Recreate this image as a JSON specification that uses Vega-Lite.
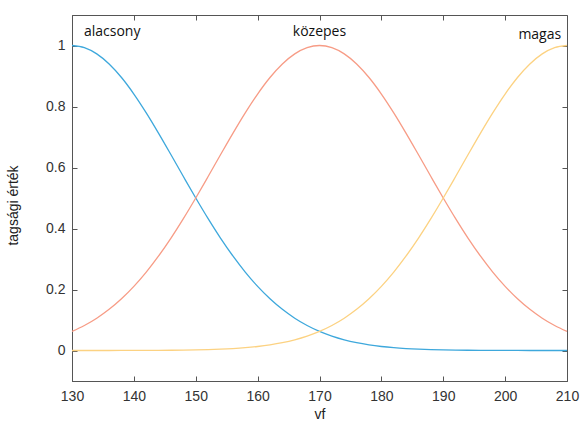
{
  "$schema": "https://vega.github.io/schema/vega-lite/v6.json",
  "width": 495,
  "height": 366,
  "autosize": {"type": "none"},
  "padding": {"left": 72, "top": 15, "right": 14, "bottom": 40},
  "background": "white",
  "config": {
    "view": {"stroke": "#555555", "strokeWidth": 1},
    "axis": {
      "labelFont": "Liberation Sans",
      "labelFontSize": 14,
      "labelColor": "#333333",
      "titleFont": "Liberation Sans",
      "titleFontSize": 14,
      "titleFontWeight": "normal",
      "titleColor": "#222222",
      "domainColor": "#555555",
      "tickColor": "#555555",
      "grid": false
    }
  },
  "datasets": {
    "curves": [
      {"x": 130, "alacsony": 1, "kozepes": 0.0625, "magas": 0.00002},
      {"x": 132, "alacsony": 0.99309, "kozepes": 0.0819, "magas": 0.00003},
      {"x": 134, "alacsony": 0.97265, "kozepes": 0.10584, "magas": 0.00005},
      {"x": 136, "alacsony": 0.93952, "kozepes": 0.1349, "magas": 0.00008},
      {"x": 138, "alacsony": 0.89503, "kozepes": 0.16958, "magas": 0.00013},
      {"x": 140, "alacsony": 0.8409, "kozepes": 0.21022, "magas": 0.00021},
      {"x": 142, "alacsony": 0.77916, "kozepes": 0.25703, "magas": 0.00033},
      {"x": 144, "alacsony": 0.71202, "kozepes": 0.30993, "magas": 0.00053},
      {"x": 146, "alacsony": 0.64172, "kozepes": 0.3685, "magas": 0.00083},
      {"x": 148, "alacsony": 0.57039, "kozepes": 0.43227, "magas": 0.00128},
      {"x": 150, "alacsony": 0.5, "kozepes": 0.5, "magas": 0.00195},
      {"x": 152, "alacsony": 0.43227, "kozepes": 0.57039, "magas": 0.00294},
      {"x": 154, "alacsony": 0.3685, "kozepes": 0.64172, "magas": 0.00436},
      {"x": 156, "alacsony": 0.30993, "kozepes": 0.71202, "magas": 0.00639},
      {"x": 158, "alacsony": 0.25703, "kozepes": 0.77916, "magas": 0.00923},
      {"x": 160, "alacsony": 0.21022, "kozepes": 0.8409, "magas": 0.01314},
      {"x": 162, "alacsony": 0.16958, "kozepes": 0.89503, "magas": 0.01845},
      {"x": 164, "alacsony": 0.1349, "kozepes": 0.93952, "magas": 0.02556},
      {"x": 166, "alacsony": 0.10584, "kozepes": 0.97265, "magas": 0.03492},
      {"x": 168, "alacsony": 0.0819, "kozepes": 0.99309, "magas": 0.04704},
      {"x": 170, "alacsony": 0.0625, "kozepes": 1, "magas": 0.0625},
      {"x": 172, "alacsony": 0.04704, "kozepes": 0.99309, "magas": 0.0819},
      {"x": 174, "alacsony": 0.03492, "kozepes": 0.97265, "magas": 0.10584},
      {"x": 176, "alacsony": 0.02556, "kozepes": 0.93952, "magas": 0.1349},
      {"x": 178, "alacsony": 0.01845, "kozepes": 0.89503, "magas": 0.16958},
      {"x": 180, "alacsony": 0.01314, "kozepes": 0.8409, "magas": 0.21022},
      {"x": 182, "alacsony": 0.00923, "kozepes": 0.77916, "magas": 0.25703},
      {"x": 184, "alacsony": 0.00639, "kozepes": 0.71202, "magas": 0.30993},
      {"x": 186, "alacsony": 0.00436, "kozepes": 0.64172, "magas": 0.3685},
      {"x": 188, "alacsony": 0.00294, "kozepes": 0.57039, "magas": 0.43227},
      {"x": 190, "alacsony": 0.00195, "kozepes": 0.5, "magas": 0.5},
      {"x": 192, "alacsony": 0.00128, "kozepes": 0.43227, "magas": 0.57039},
      {"x": 194, "alacsony": 0.00083, "kozepes": 0.3685, "magas": 0.64172},
      {"x": 196, "alacsony": 0.00053, "kozepes": 0.30993, "magas": 0.71202},
      {"x": 198, "alacsony": 0.00033, "kozepes": 0.25703, "magas": 0.77916},
      {"x": 200, "alacsony": 0.00021, "kozepes": 0.21022, "magas": 0.8409},
      {"x": 202, "alacsony": 0.00013, "kozepes": 0.16958, "magas": 0.89503},
      {"x": 204, "alacsony": 0.00008, "kozepes": 0.1349, "magas": 0.93952},
      {"x": 206, "alacsony": 0.00005, "kozepes": 0.10584, "magas": 0.97265},
      {"x": 208, "alacsony": 0.00003, "kozepes": 0.0819, "magas": 0.99309},
      {"x": 210, "alacsony": 0.00002, "kozepes": 0.0625, "magas": 1}
    ],
    "labels": [
      {"x": 136.5, "y": 1.045, "label": "alacsony"},
      {"x": 170, "y": 1.045, "label": "közepes"},
      {"x": 205.6, "y": 1.035, "label": "magas"}
    ]
  },
  "layer": [
    {
      "data": {"name": "curves"},
      "transform": [{"fold": ["alacsony", "kozepes", "magas"], "as": ["set", "value"]}],
      "mark": {"type": "line", "interpolate": "monotone", "strokeWidth": 1.3},
      "encoding": {
        "x": {
          "field": "x", "type": "quantitative",
          "scale": {"domain": [130, 210], "nice": false, "zero": false},
          "axis": {"values": [130, 140, 150, 160, 170, 180, 190, 200, 210], "tickSize": -5, "labelPadding": 13, "title": "vf", "titlePadding": 4, "labelFlush": false}
        },
        "y": {
          "field": "value", "type": "quantitative",
          "scale": {"domain": [-0.1, 1.1], "nice": false, "zero": false},
          "axis": {"values": [0, 0.2, 0.4, 0.6, 0.8, 1], "format": "~g", "tickSize": -5, "labelPadding": 12, "title": "tagsági érték", "titleX": -52, "titleY": 190}
        },
        "color": {
          "field": "set", "type": "nominal",
          "scale": {"domain": ["alacsony", "kozepes", "magas"], "range": ["#3ea8dc", "#f79c86", "#fcd282"]},
          "legend": null
        }
      }
    },
    {
      "data": {"name": "labels"},
      "mark": {"type": "text", "font": "Open Sans", "fontSize": 14, "color": "#111111", "align": "center", "baseline": "middle"},
      "encoding": {
        "x": {"field": "x", "type": "quantitative", "axis": {"orient": "top", "values": [130, 140, 150, 160, 170, 180, 190, 200, 210], "tickSize": -5, "labels": false, "title": null, "domain": false}},
        "y": {"field": "y", "type": "quantitative", "axis": {"orient": "right", "values": [0, 0.2, 0.4, 0.6, 0.8, 1], "tickSize": -5, "labels": false, "title": null, "domain": false}},
        "text": {"field": "label"}
      }
    }
  ],
  "resolve": {"axis": {"x": "independent", "y": "independent"}}
}
